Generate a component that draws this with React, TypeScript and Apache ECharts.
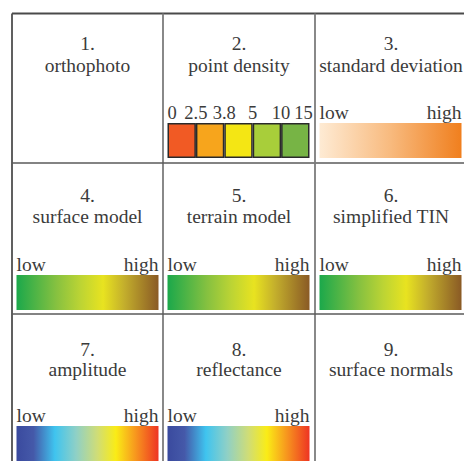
import React, { useEffect, useRef } from "react";
import * as echarts from "echarts";

// ---- content ----
const cellNumbers = ["1.", "2.", "3.", "4.", "5.", "6.", "7.", "8.", "9."];
const cellNames = [
  "orthophoto",
  "point density",
  "standard deviation",
  "surface model",
  "terrain model",
  "simplified TIN",
  "amplitude",
  "reflectance",
  "surface normals",
];
// which legend each cell shows
const cellLegends = ["none", "classes", "stdev", "elev", "elev", "elev", "intens", "intens", "none"];
const rampLabels = ["low", "high"];

const densityBreaks = ["0", "2.5", "3.8", "5", "10", "15"];
const densityClassWidths = [1, 1, 1, 1, 1];
const densityColors = ["#F15A24", "#F7A51C", "#F4E614", "#A8CE3A", "#77B445"];

const stdevStops: [number, string][] = [
  [0, "#FEEBD4"],
  [0.5, "#F8BA7E"],
  [1, "#F07F1E"],
];
const elevStops: [number, string][] = [
  [0, "#1BA84B"],
  [0.28, "#86C140"],
  [0.45, "#BCD434"],
  [0.61, "#E8E320"],
  [0.76, "#C3AE2C"],
  [1, "#8A5A25"],
];
const intensStops: [number, string][] = [
  [0, "#3A4A9E"],
  [0.12, "#4559A9"],
  [0.27, "#3FC4EF"],
  [0.42, "#8FD0C6"],
  [0.57, "#D0DD76"],
  [0.7, "#FAEC16"],
  [0.84, "#F7961E"],
  [1, "#EE3423"],
];

// ---- layout ----
const W = 464;
const H = 461;
const colEdges = [12, 163, 315, 467];
const rowEdges = [13.5, 163, 314, 470];
const numBaseline = [50, 202, 356];
const nameBaseline = [72, 223, 376];
const legendBaseline = [119.5, 271.5, 422];
const barTop = [123, 275, 426];
const barH = 35;
const barInset = 4.5;
const barW = 142;
const FS = 19.5;
const FS_TICK = 18.5;
const FONT = "Liberation Serif";
const TEXT = "#3b3b3b";

const midY = (baseline: number) => baseline - 0.3375 * FS;

function gradient(stops: [number, string][]) {
  return new echarts.graphic.LinearGradient(
    0,
    0,
    1,
    0,
    stops.map(([offset, color]) => ({ offset, color }))
  );
}

function txt(text: string, x: number, baseline: number, align: string) {
  return {
    type: "text",
    x,
    y: midY(baseline),
    style: {
      text,
      fill: TEXT,
      fontSize: FS,
      fontFamily: FONT,
      align,
      verticalAlign: "middle",
    },
  };
}

function buildOption() {
  const graphics: any[] = [];

  // frame
  graphics.push({
    type: "line",
    shape: { x1: colEdges[0], y1: rowEdges[0], x2: colEdges[3], y2: rowEdges[0] },
    style: { stroke: "#4a4a4a", lineWidth: 1.8 },
  });
  graphics.push({
    type: "line",
    shape: { x1: colEdges[0], y1: rowEdges[0], x2: colEdges[0], y2: rowEdges[3] },
    style: { stroke: "#4f4f4f", lineWidth: 1.8 },
  });
  [1, 2].forEach((i) => {
    graphics.push({
      type: "line",
      shape: { x1: colEdges[i], y1: rowEdges[0], x2: colEdges[i], y2: rowEdges[3] },
      style: { stroke: "#7c7c7c", lineWidth: 1.8 },
    });
    graphics.push({
      type: "line",
      shape: { x1: colEdges[0], y1: rowEdges[i], x2: colEdges[3], y2: rowEdges[i] },
      style: { stroke: "#5a5a5a", lineWidth: 1.6 },
    });
  });

  cellNames.forEach((name, idx) => {
    const r = Math.floor(idx / 3);
    const c = idx % 3;
    const cx = (colEdges[c] + colEdges[c + 1]) / 2;
    graphics.push(txt(cellNumbers[idx], cx, numBaseline[r], "center"));
    graphics.push(txt(name, cx, nameBaseline[r], "center"));
    const kind = cellLegends[idx];
    const bx = colEdges[c] + barInset;
    if (kind === "stdev" || kind === "elev" || kind === "intens") {
      const stops = kind === "stdev" ? stdevStops : kind === "elev" ? elevStops : intensStops;
      graphics.push({
        type: "rect",
        shape: { x: bx, y: barTop[r], width: barW, height: barH },
        style: { fill: gradient(stops) },
      });
      graphics.push(txt(rampLabels[0], bx, legendBaseline[r], "left"));
      graphics.push(txt(rampLabels[1], bx + barW, legendBaseline[r], "right"));
    }
  });

  const densityIdx = cellLegends.indexOf("classes");
  const dr = Math.floor(densityIdx / 3);
  const dc = densityIdx % 3;
  const densityMax = densityClassWidths.reduce((a, b) => a + b, 0);

  return {
    animation: false,
    backgroundColor: "#ffffff",
    textStyle: { fontFamily: FONT },
    grid: {
      left: colEdges[dc] + barInset,
      top: barTop[dr],
      width: barW,
      height: barH,
      containLabel: false,
      outerBoundsMode: "none",
    },
    xAxis: {
      type: "value",
      position: "top",
      min: 0,
      max: densityMax,
      interval: 1,
      axisLine: { show: false },
      axisTick: { show: false },
      splitLine: { show: false },
      axisLabel: {
        margin: 1,
        fontSize: FS_TICK,
        color: TEXT,
        fontFamily: FONT,
        showMinLabel: true,
        showMaxLabel: true,
        hideOverlap: false,
        alignMinLabel: "left",
        alignMaxLabel: "center",
        formatter: (v: number) => {
          const i = Math.round(v);
          const label = densityBreaks[i] ?? "";
          return i === densityMax ? `{max|${label}}` : label;
        },
        rich: {
          max: {
            fontSize: FS_TICK,
            fontFamily: FONT,
            color: TEXT,
            padding: [0, 12, 0, 0],
          },
        },
      },
    },
    yAxis: { type: "category", data: ["density"], show: false },
    series: densityColors.map((color, i) => ({
      type: "bar",
      stack: "density",
      data: [densityClassWidths[i]],
      barWidth: "100%",
      silent: true,
      itemStyle: { color, borderColor: "#2a2a2a", borderWidth: 1.5 },
    })),
    graphic: graphics,
  };
}

export default function App() {
  const ref = useRef<HTMLDivElement>(null);
  useEffect(() => {
    document.body.style.margin = "0";
    if (!ref.current) return;
    const chart = echarts.init(ref.current, undefined, { renderer: "svg", width: W, height: H });
    chart.setOption(buildOption() as any);
    return () => chart.dispose();
  }, []);
  return <div ref={ref} style={{ width: W, height: H }} />;
}
